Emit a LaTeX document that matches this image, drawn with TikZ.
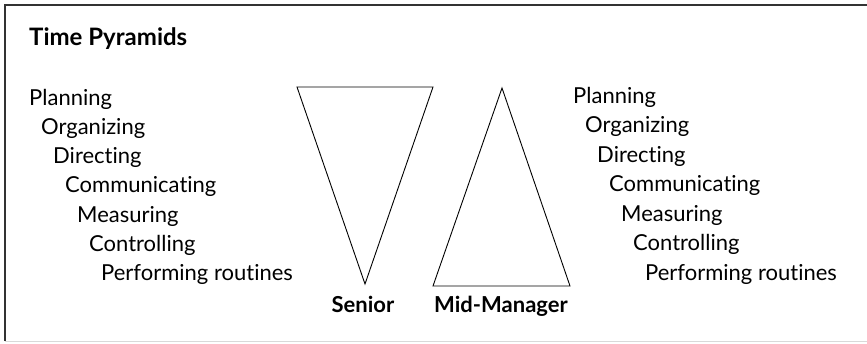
\documentclass[tikz,border=0pt]{standalone}
\usepackage{fontspec}
\setmainfont{Lato}[Ligatures=NoCommon]
\usepackage{tikz}
\usetikzlibrary{calc}

\begin{document}
\begin{tikzpicture}[x=1pt,y=-1pt,
    task/.style={anchor=base west,inner sep=0pt,font=\fontsize{22}{26}\selectfont},
    heading/.style={anchor=base,inner sep=0pt,font=\fontsize{22}{26}\selectfont\bfseries},
    pyramid/.style={line width=0.9pt,line join=miter}]
  \useasboundingbox (0,0) rectangle (867,343);
  \draw[line width=1.6pt,black!80] (5,341) -- (5,5) -- (867,5);
  \draw[line width=1pt,black!15] (5,341) -- (867,341);

  \node[heading,anchor=base west,font=\fontsize{24}{28}\selectfont\bfseries] (title) at (29,45) {Time Pyramids};

  % left list
  \foreach \t [count=\i] in {Planning,Organizing,Directing,Communicating,
                            Measuring,Controlling,Performing routines}
    \node[task] (l\i) at ({29+12*(\i-1)},{105+29.3*(\i-1)}) {\t};

  % senior pyramid, upside down
  \coordinate (s1) at (297,87);
  \coordinate (s2) at (433,87);
  \coordinate (s3) at (365,284);
  \draw[pyramid] (s1) -- (s2) -- (s3) -- cycle;
  \node[heading] (senior) at (363,312) {Senior};

  % mid-manager pyramid
  \coordinate (m1) at (502,88);
  \coordinate (m2) at (570,286);
  \coordinate (m3) at (433,286);
  \draw[pyramid] (m1) -- (m2) -- (m3) -- cycle;
  \node[heading] (mid) at (501,312) {Mid-Manager};

  % right list
  \foreach \t [count=\i] in {Planning,Organizing,Directing,Communicating,
                            Measuring,Controlling,Performing routines}
    \node[task] (r\i) at ({573+12*(\i-1)},{103+29.5*(\i-1)}) {\t};
\end{tikzpicture}
\end{document}
